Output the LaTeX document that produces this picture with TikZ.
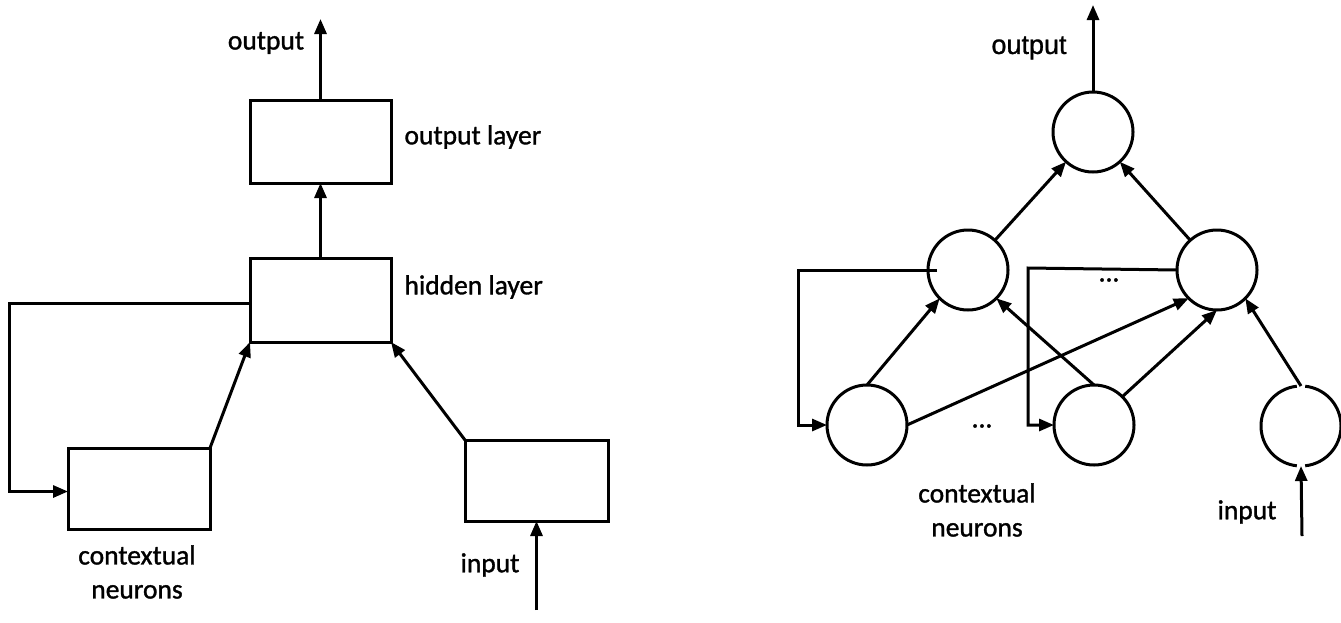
\documentclass[tikz,border=0pt]{standalone}
\usepackage{fontspec}
\setmainfont{Carlito}
\newfontfamily\lblfont{Carlito}[FakeBold=1.2]
\newfontfamily\arialfont{Liberation Sans}[FakeBold=1.0]
\usetikzlibrary{arrows.meta,calc}

\begin{document}
\begin{tikzpicture}[x=1pt,y=-1pt,
  line width=3pt,
  arr/.style={-{Triangle[length=15pt,width=12pt]}},
  layerbox/.style={draw,rectangle,inner sep=0pt,outer sep=0pt},
  neuron/.style={draw,circle,inner sep=0pt,outer sep=0pt,minimum size=80pt},
  lbl/.style={inner sep=0pt,font=\lblfont\fontsize{27.5pt}{34pt}\selectfont},
]
\useasboundingbox (0,0) rectangle (1341,622);

% ---------- Elman network drawn with layer boxes ----------
\node[layerbox,minimum width=141pt,minimum height=83pt] (ol) at (320.5,141.5) {};
\node[layerbox,minimum width=141pt,minimum height=84pt] (hl) at (320.5,300) {};
\node[layerbox,minimum width=142pt,minimum height=81pt] (cn) at (139,488.5) {};
\node[layerbox,minimum width=143pt,minimum height=81pt] (in) at (536.5,480.5) {};

\coordinate (outTip) at (320.5,19);
\coordinate (inTail) at (536.5,610);
\coordinate (fbL) at (9,303);

\draw[arr] (ol.north) -- (outTip);
\draw[arr] (hl.north) -- (ol.south);
\draw[arr] (cn.north east) -- (hl.south west);
\draw[arr] (in.north west) -- (hl.south east);
\draw[arr] (inTail) -- (in.south);
\draw[arr] ([yshift=-3pt]hl.west) -- (fbL) |- ([yshift=-3pt]cn.west);

\node[lbl] (tOut) at (266,43) {output};
\node[lbl,anchor=west] (tOl) at (403,137) {output layer};
\node[lbl,anchor=west] (tHl) at (403,287) {hidden layer};
\node[lbl,align=center] (tCn) at (137,572) {contextual\\neurons};
\node[lbl] (tIn) at (490,565) {input};

% ---------- the same network drawn neuron by neuron ----------
\node[neuron] (top) at (1093,132) {};
\node[neuron] (lm) at (968,270) {};
\node[neuron] (rm) at (1217,270) {};
\node[neuron] (bl) at (867,425) {};
\node[neuron] (bm) at (1094,425) {};
\node[neuron,draw=none] (br) at (1301,426) {};
% input neuron outline, open where its connectors meet it
\draw (br.96) arc[start angle=96,end angle=264,radius=40pt];
\draw (br.-84) arc[start angle=-84,end angle=84,radius=40pt];

\coordinate (outTipR) at (1093,5);
\coordinate (inTailR) at (1302,536);
\coordinate (fbR1) at (798,270);
\coordinate (fbR2) at (1028,268);

\draw[arr] (top.north) -- (outTipR);
\draw[arr] (lm) -- (top);
\draw[arr] (rm) -- (top);
\draw[arr] (bl.north) -- (lm.225);
\draw[arr] (bm.north) -- (lm.-45);
\draw[arr] (bl.east) -- (rm.225);
\draw[arr] (bm.45) -- (rm.south);
\draw[arr] (br.north) -- (rm.-45);
\draw[arr] (inTailR) -- (br.south);
\draw[arr] ([xshift=9pt]lm.west) -- (fbR1) |- (bl.west);
\draw[arr] (rm.west) -- (fbR2) |- (bm.west);

\node[lbl,font=\arialfont\fontsize{27pt}{32pt}\selectfont] (tOutR) at (1029,48) {output};
\node[lbl] (dots1) at (982,426) {...};
\node[lbl] (dots2) at (1109,280) {...};
\node[lbl,align=center] (tCnR) at (977,510) {contextual\\neurons};
\node[lbl] (tInR) at (1247,512) {input};
\end{tikzpicture}
\end{document}
